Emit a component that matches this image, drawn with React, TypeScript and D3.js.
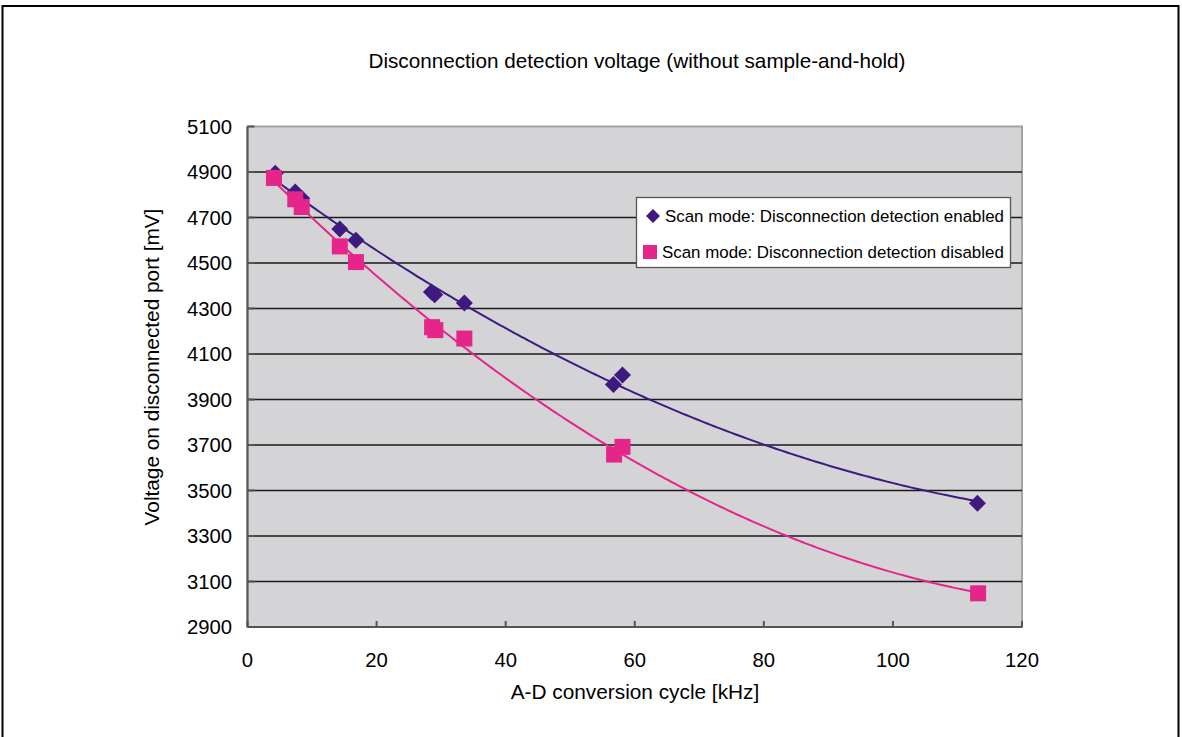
import React from "react";
import * as d3 from "d3";

const title = "Disconnection detection voltage (without sample-and-hold)";
const xTitle = "A-D conversion cycle [kHz]";
const yTitle = "Voltage on disconnected port [mV]";
const seriesNames = [
  "Scan mode: Disconnection detection enabled",
  "Scan mode: Disconnection detection disabled",
];
const xTicks = [0, 20, 40, 60, 80, 100, 120];
const yTicks = [2900, 3100, 3300, 3500, 3700, 3900, 4100, 4300, 4500, 4700, 4900, 5100];

const enabledX = [4.3, 7.4, 8.4, 14.3, 16.8, 28.5, 29.0, 33.6, 56.7, 58.1, 113.1];
const enabledY = [4895, 4812, 4785, 4650, 4600, 4372, 4360, 4324, 3966, 4008, 3444];
const disabledX = [4.1, 7.4, 8.4, 14.3, 16.8, 28.6, 29.1, 33.6, 56.8, 58.1, 113.2];
const disabledY = [4874, 4780, 4746, 4573, 4504, 4218, 4205, 4168, 3658, 3692, 3048];

const W = 1182;
const H = 737;
const M = { left: 247.5, right: 1022, top: 126.5, bottom: 627 };
const ENABLED_COLOR = "#3e1a80";
const DISABLED_COLOR = "#e6258a";
const FONT = "'Liberation Sans', Arial, sans-serif";
const TEXT = "#000";

function quadFit(xs: number[], ys: number[]) {
  // least squares y = a + b x + c x^2
  let s0 = 0, s1 = 0, s2 = 0, s3 = 0, s4 = 0, t0 = 0, t1 = 0, t2 = 0;
  xs.forEach((x, i) => {
    const y = ys[i];
    s0 += 1; s1 += x; s2 += x * x; s3 += x * x * x; s4 += x * x * x * x;
    t0 += y; t1 += x * y; t2 += x * x * y;
  });
  const A = [
    [s0, s1, s2, t0],
    [s1, s2, s3, t1],
    [s2, s3, s4, t2],
  ];
  for (let i = 0; i < 3; i++) {
    let p = i;
    for (let r = i + 1; r < 3; r++) if (Math.abs(A[r][i]) > Math.abs(A[p][i])) p = r;
    [A[i], A[p]] = [A[p], A[i]];
    for (let r = 0; r < 3; r++) {
      if (r === i) continue;
      const f = A[r][i] / A[i][i];
      for (let c = i; c < 4; c++) A[r][c] -= f * A[i][c];
    }
  }
  const a = A[0][3] / A[0][0];
  const b = A[1][3] / A[1][1];
  const c = A[2][3] / A[2][2];
  return (x: number) => a + b * x + c * x * x;
}

export default function App() {
  const x = d3.scaleLinear().domain([0, 120]).range([M.left, M.right]);
  const y = d3.scaleLinear().domain([2900, 5100]).range([M.bottom, M.top]);

  const line = d3
    .line<[number, number]>()
    .x((d) => x(d[0]))
    .y((d) => y(d[1]));

  const trend = (xs: number[], ys: number[]) => {
    const f = quadFit(xs, ys);
    const lo = d3.min(xs)!;
    const hi = d3.max(xs)!;
    const pts: [number, number][] = d3.range(0, 201).map((i) => {
      const xv = lo + ((hi - lo) * i) / 200;
      return [xv, f(xv)];
    });
    return line(pts) || "";
  };

  const diamond = (cx: number, cy: number, r: number) =>
    `M${cx},${cy - r}L${cx + r},${cy}L${cx},${cy + r}L${cx - r},${cy}Z`;

  return (
    <svg
      width={W}
      height={H}
      style={{ position: "absolute", left: 0, top: 0, background: "#fff" }}
      fontFamily={FONT}
    >
      <rect x={2.5} y={6} width={1176} height={H + 20} fill="#fff" stroke="#000" strokeWidth={2} />
      <text x={637} y={68} textAnchor="middle" fontSize={20.7} fill={TEXT}>
        {title}
      </text>

      <rect
        x={M.left}
        y={M.top}
        width={M.right - M.left}
        height={M.bottom - M.top}
        fill="#d4d4d7"
        stroke="#a3a3a3"
        strokeWidth={2}
      />
      {yTicks.slice(1, -1).map((t) => (
        <line key={t} x1={M.left} x2={M.right} y1={y(t)} y2={y(t)} stroke="#1a1a1a" strokeWidth={1.3} />
      ))}
      {/* axes */}
      <line x1={M.left} x2={M.left} y1={M.top} y2={M.bottom} stroke="#555" strokeWidth={2} />
      <line x1={M.left} x2={M.right} y1={M.bottom} y2={M.bottom} stroke="#555" strokeWidth={2} />
      {yTicks.map((t) => (
        <line key={"yt" + t} x1={M.left} x2={M.left + 7} y1={y(t)} y2={y(t)} stroke="#555" strokeWidth={2} />
      ))}
      {xTicks.map((t) => (
        <line key={"xt" + t} x1={x(t)} x2={x(t)} y1={M.bottom} y2={M.bottom - 6} stroke="#555" strokeWidth={2} />
      ))}
      {yTicks.map((t) => (
        <text key={"yl" + t} x={232} y={y(t) + 7.3} textAnchor="end" fontSize={20.3} fill={TEXT}>
          {t}
        </text>
      ))}
      {xTicks.map((t) => (
        <text key={"xl" + t} x={x(t)} y={666.5} textAnchor="middle" fontSize={20.3} fill={TEXT}>
          {t}
        </text>
      ))}
      <text x={635} y={698.5} textAnchor="middle" fontSize={20.8} fill={TEXT}>
        {xTitle}
      </text>
      <text
        transform={`translate(158.5,367) rotate(-90)`}
        textAnchor="middle"
        fontSize={20.8}
        fill={TEXT}
      >
        {yTitle}
      </text>

      {/* trend lines */}
      <path d={trend(enabledX, enabledY)} fill="none" stroke={ENABLED_COLOR} strokeWidth={2} />
      <path d={trend(disabledX, disabledY)} fill="none" stroke={DISABLED_COLOR} strokeWidth={2} />

      {/* markers */}
      {enabledX.map((xv, i) => (
        <path key={"e" + i} d={diamond(x(xv), y(enabledY[i]), 8.5)} fill={ENABLED_COLOR} />
      ))}
      {disabledX.map((xv, i) => (
        <rect
          key={"d" + i}
          x={x(xv) - 8}
          y={y(disabledY[i]) - 8}
          width={16}
          height={16}
          fill={DISABLED_COLOR}
        />
      ))}

      {/* legend */}
      <rect x={636.5} y={197.5} width={374} height={70} fill="#fff" stroke="#555" strokeWidth={1.3} />
      <path d={diamond(653, 216, 7)} fill={ENABLED_COLOR} />
      <text x={665} y={221.5} fontSize={16.9} fill={TEXT}>
        {seriesNames[0]}
      </text>
      <rect x={643} y={245} width={14} height={14} fill={DISABLED_COLOR} />
      <text x={662} y={258} fontSize={16.9} fill={TEXT}>
        {seriesNames[1]}
      </text>
    </svg>
  );
}
